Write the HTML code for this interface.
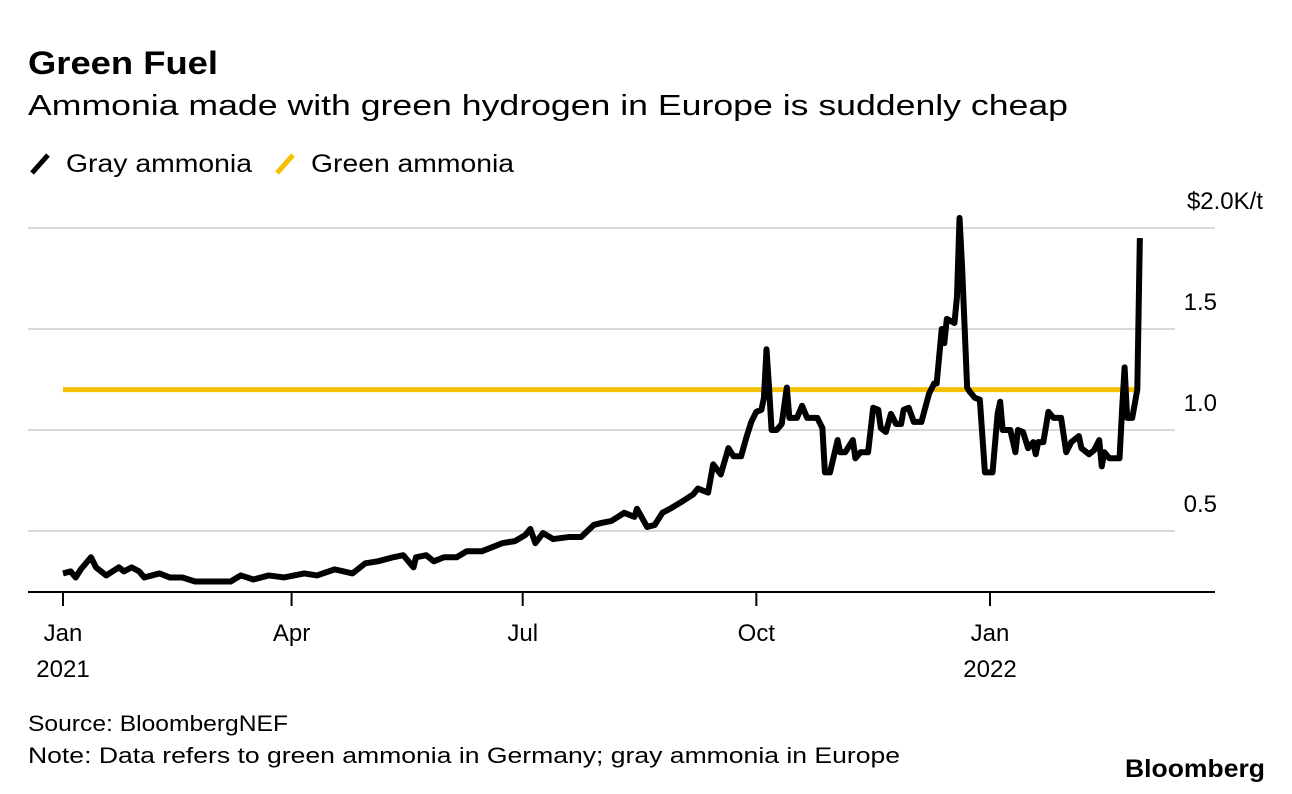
<!DOCTYPE html>
<html><head><meta charset="utf-8"><style>
html,body{margin:0;padding:0;background:#fff;}
svg{display:block;font-family:"Liberation Sans",Arial,sans-serif;}
</style></head><body>
<svg id="chart" width="1292" height="794" viewBox="0 0 1292 794" xmlns="http://www.w3.org/2000/svg">
<text x="28" y="74" font-size="32" font-weight="bold" fill="#000" textLength="190" lengthAdjust="spacingAndGlyphs">Green Fuel</text>
<text x="28" y="115" font-size="29" fill="#000" textLength="1040" lengthAdjust="spacingAndGlyphs">Ammonia made with green hydrogen in Europe is suddenly cheap</text>
<g>
<line x1="32" y1="173" x2="48" y2="155" stroke="#000" stroke-width="5"/>
<text x="66" y="172" font-size="25" textLength="186" lengthAdjust="spacingAndGlyphs">Gray ammonia</text>
<line x1="277" y1="173" x2="293" y2="155" stroke="#f5c000" stroke-width="5"/>
<text x="311" y="172" font-size="25" textLength="203" lengthAdjust="spacingAndGlyphs">Green ammonia</text>
</g>
<g id="grid"></g>
<g id="xaxis"></g>
<g id="series"></g>
<text x="28" y="731" font-size="22" textLength="260" lengthAdjust="spacingAndGlyphs">Source: BloombergNEF</text>
<text x="28" y="763" font-size="22" textLength="872" lengthAdjust="spacingAndGlyphs">Note: Data refers to green ammonia in Germany; gray ammonia in Europe</text>
<text x="1125" y="777" font-size="25" font-weight="bold" textLength="140" lengthAdjust="spacingAndGlyphs">Bloomberg</text>
</svg>
<script>
// day offsets from 2021-01-01
const grayDays = [0,3,5,7,11,13,17,22,24,27,30,32,38,42,47,52,66,70,75,81,87,95,100,107,114,119,124,130,134,138,139,143,146,150,155,159,165,169,173,178,182,184,186,189,193,199,204,209,212,216,221,225,226,230,233,236,239,243,248,250,254,256,259,262,264,267,269,271,273,275,276,277,278,279,281,283,285,286,289,291,293,297,299,300,302,305,306,308,311,312,314,317,319,321,322,324,326,328,330,331,333,335,338,341,343,344,346,347,348,351,352,353,354,356,357,359,361,363,366,368,369,370,373,375,376,378,380,382,383,384,386,388,390,391,393,395,397,400,401,404,406,408,409,410,412,416,417,418,419,421,423,424];
const grayValues = [0.29,0.30,0.27,0.31,0.37,0.32,0.28,0.32,0.30,0.32,0.30,0.27,0.29,0.27,0.27,0.25,0.25,0.28,0.26,0.28,0.27,0.29,0.28,0.31,0.29,0.34,0.35,0.37,0.38,0.32,0.37,0.38,0.35,0.37,0.37,0.40,0.40,0.42,0.44,0.45,0.48,0.51,0.44,0.49,0.46,0.47,0.47,0.53,0.54,0.55,0.59,0.57,0.61,0.52,0.53,0.59,0.61,0.64,0.68,0.71,0.69,0.83,0.78,0.91,0.87,0.87,0.96,1.04,1.09,1.10,1.16,1.40,1.21,1.00,1.00,1.03,1.21,1.06,1.06,1.12,1.06,1.06,1.01,0.79,0.79,0.95,0.89,0.89,0.95,0.86,0.89,0.89,1.11,1.10,1.01,0.99,1.08,1.03,1.03,1.10,1.11,1.04,1.04,1.18,1.23,1.23,1.50,1.43,1.55,1.53,1.66,2.05,1.81,1.21,1.19,1.16,1.15,0.79,0.79,1.08,1.14,1.00,1.00,0.89,1.00,0.99,0.91,0.94,0.88,0.94,0.94,1.09,1.06,1.06,1.06,0.89,0.94,0.97,0.91,0.88,0.90,0.95,0.82,0.89,0.86,0.86,1.10,1.31,1.06,1.06,1.20,1.95];
const greenDays = [0,424];
const greenValues = [1.2,1.2];
const yTicks = [0.5,1.0,1.5,2.0];
const yTickLabels = ["0.5","1.0","1.5","$2.0K/t"];
const xTickDays = [0,90,181,273,365];
const xTickLabels = ["Jan","Apr","Jul","Oct","Jan"];
const xYearLabels = ["2021","","","","2022"];

const NS="http://www.w3.org/2000/svg";
const xS = d => 63 + d*(927/365);
const yS = v => 632 - v*202;
function mk(tag, attrs, parent){const e=document.createElementNS(NS,tag);for(const k in attrs)e.setAttribute(k,attrs[k]);parent.appendChild(e);return e;}
const grid=document.getElementById('grid'), xa=document.getElementById('xaxis'), se=document.getElementById('series');
yTicks.forEach((t,i)=>{
  const top = i===yTicks.length-1;
  const gl=mk('line',{x1:28,x2:top?1215:1175,y1:yS(t),y2:yS(t),stroke:'#d9d9d9','stroke-width':2},grid);
  
  
  const tx=mk('text',{x:top?1263:1217,y:yS(t)-19,'font-size':24,'text-anchor':'end',fill:'#000'},grid);
  tx.textContent=yTickLabels[i];
  
  
});
const ax=mk('line',{x1:28,x2:1215,y1:592,y2:592,stroke:'#000','stroke-width':2},xa);


xTickDays.forEach((d,i)=>{
  const x=xS(d);
  const tk=mk('line',{x1:x,x2:x,y1:592,y2:606,stroke:'#000','stroke-width':2},xa);
  
  
  const t=mk('text',{x:x,y:641,'font-size':24,'text-anchor':'middle'},xa);
  t.textContent=xTickLabels[i];
  
  
  if(xYearLabels[i]){
    const t2=mk('text',{x:x,y:677,'font-size':24,'text-anchor':'middle'},xa);
    t2.textContent=xYearLabels[i];
    
    
  }
});
const gp=mk('polyline',{points:greenDays.map((d,i)=>xS(d)+','+yS(greenValues[i])).join(' '),fill:'none',stroke:'#f5c000','stroke-width':5},se);


const bp=mk('polyline',{points:grayDays.map((d,i)=>xS(d)+','+yS(grayValues[i])).join(' '),fill:'none',stroke:'#000','stroke-width':6,'stroke-linejoin':'round'},se);


</script>
</body></html>
